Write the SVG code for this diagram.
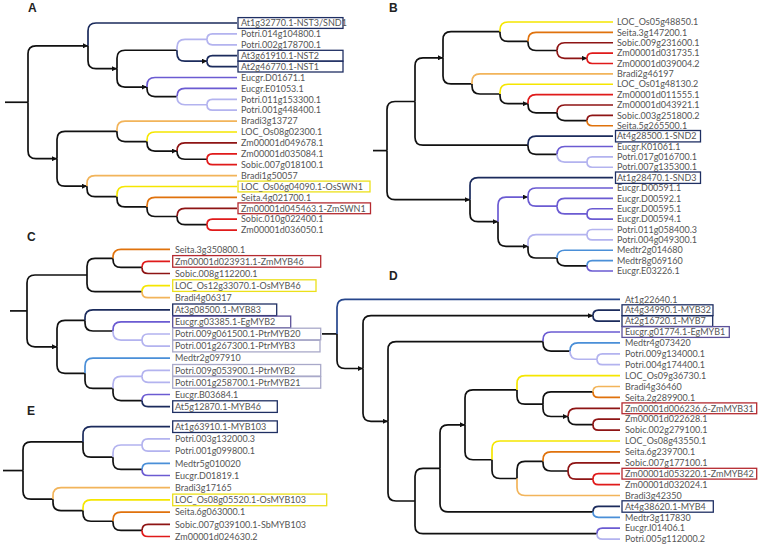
<svg xmlns="http://www.w3.org/2000/svg" width="764" height="550" viewBox="0 0 764 550">
<style>
.t{font-family:Lato,"Open Sans","Liberation Sans",sans-serif;font-size:9px;fill:#555}
.h{font-family:"Liberation Sans",Arial,sans-serif;font-size:12px;font-weight:bold;fill:#222}
path{fill:none;stroke-width:1.7}
.mk{fill:#111;stroke:none}
.k{stroke:#111}.nv{stroke:#1b2b5c}.nv2{stroke:#26468c}.lv{stroke:#b3b3ef}.pu{stroke:#6b5bd2}.bl{stroke:#4a8fd8}
.lo{stroke:#f2b45a}.ye{stroke:#f5e600}.or{stroke:#e0720c}.dr{stroke:#8e1414}.rd{stroke:#e01a1a}
.m{marker-end:url(#ar)}
rect{fill:none;stroke-width:1.3}
.bnv{stroke:#1f2f63}.bye{stroke:#ece01a}.brd{stroke:#b52a30}.blv{stroke:#a9a9c9}.bpu{stroke:#5c5199}
</style>
<defs>
<marker id="ar" viewBox="0 0 6 6" refX="6" refY="3" markerWidth="5" markerHeight="5" markerUnits="userSpaceOnUse" orient="auto"><path class="mk" d="M0,0L6,3L0,6z"/></marker>
</defs>
<rect x="0" y="0" width="764" height="550" fill="#fff" stroke="none"/>
<text class="h" x="28" y="12">A</text>
<text class="h" x="389" y="12">B</text>
<text class="h" x="27" y="241">C</text>
<text class="h" x="389" y="280">D</text>
<text class="h" x="27" y="415">E</text>
<g id="connectors">
<g id="treeA">
<path class="k" d="M5 102.25 H28"/>
<path class="k m" d="M28 102.25 V53.8 Q28 45.8 36 45.8 H88"/>
<path class="k m" d="M28 102.25 V150.7 Q28 158.7 36 158.7 H57"/>
<path class="nv" d="M88 45.8 V31 Q88 23 96 23 H237"/>
<path class="k m" d="M88 45.8 V60.65 Q88 68.65 96 68.65 H117"/>
<path class="k" d="M117 68.65 V58.25 Q117 50.25 125 50.25 H177"/>
<path class="k m" d="M117 68.65 V79.05 Q117 87.05 125 87.05 H147"/>
<path class="lv" d="M177 50.25 V47.35 Q177 39.35 185 39.35 H207"/>
<path class="nv m" d="M177 50.25 V53.15 Q177 61.15 185 61.15 H207"/>
<path class="lv" d="M207 39.35 Q207 33.9 212.45 33.9 H237"/>
<path class="lv" d="M207 39.35 Q207 44.8 212.45 44.8 H237"/>
<path class="nv" d="M207 61.15 Q207 55.7 212.45 55.7 H237"/>
<path class="nv" d="M207 61.15 Q207 66.6 212.45 66.6 H237"/>
<path class="pu" d="M147 87.05 V85.5 Q147 77.5 155 77.5 H237"/>
<path class="k" d="M147 87.05 V88.6 Q147 96.6 155 96.6 H177"/>
<path class="pu" d="M177 96.6 V96.4 Q177 88.4 185 88.4 H237"/>
<path class="lv" d="M177 96.6 V96.75 Q177 104.75 185 104.75 H207"/>
<path class="lv" d="M207 104.75 Q207 99.3 212.45 99.3 H237"/>
<path class="lv" d="M207 104.75 Q207 110.2 212.45 110.2 H237"/>
<path class="k" d="M57 158.7 V139.3 Q57 131.3 65 131.3 H117"/>
<path class="k m" d="M57 158.7 V178.15 Q57 186.15 65 186.15 H87"/>
<path class="lo" d="M117 131.3 V129.1 Q117 121.1 125 121.1 H237"/>
<path class="k" d="M117 131.3 V133.55 Q117 141.55 125 141.55 H147"/>
<path class="ye" d="M147 141.55 V140 Q147 132 155 132 H237"/>
<path class="k m" d="M147 141.55 V143.1 Q147 151.1 155 151.1 H177"/>
<path class="dr" d="M177 151.1 V150.9 Q177 142.9 185 142.9 H237"/>
<path class="k" d="M177 151.1 V151.25 Q177 159.25 185 159.25 H207"/>
<path class="rd" d="M207 159.25 Q207 153.8 212.45 153.8 H237"/>
<path class="rd" d="M207 159.25 Q207 164.7 212.45 164.7 H237"/>
<path class="lo" d="M87 186.15 V183.6 Q87 175.6 95 175.6 H237"/>
<path class="k" d="M87 186.15 V188.7 Q87 196.7 95 196.7 H117"/>
<path class="ye" d="M117 196.7 V194.5 Q117 186.5 125 186.5 H237"/>
<path class="k" d="M117 196.7 V198.95 Q117 206.95 125 206.95 H147"/>
<path class="or" d="M147 206.95 V205.4 Q147 197.4 155 197.4 H237"/>
<path class="k" d="M147 206.95 V208.5 Q147 216.5 155 216.5 H177"/>
<path class="dr" d="M177 216.5 V216.3 Q177 208.3 185 208.3 H237"/>
<path class="k" d="M177 216.5 V216.65 Q177 224.65 185 224.65 H207"/>
<path class="rd" d="M207 224.65 Q207 219.2 212.45 219.2 H237"/>
<path class="rd" d="M207 224.65 Q207 230.1 212.45 230.1 H237"/>
</g>
<g id="treeB">
<path class="k" d="M373 150.6 H387"/>
<path class="k" d="M387 150.6 V109.5 Q387 101.5 395 101.5 H415"/>
<path class="k m" d="M387 150.6 V191.65 Q387 199.65 395 199.65 H470"/>
<path class="k m" d="M415 101.5 V65.8 Q415 57.8 423 57.8 H443"/>
<path class="k" d="M415 101.5 V137.2 Q415 145.2 423 145.2 H528"/>
<path class="k" d="M443 57.8 V39.7 Q443 31.7 451 31.7 H500"/>
<path class="k" d="M443 57.8 V75.95 Q443 83.95 451 83.95 H472"/>
<path class="ye" d="M500 31.7 V30 Q500 22 508 22 H613"/>
<path class="k" d="M500 31.7 V33.45 Q500 41.45 508 41.45 H528"/>
<path class="or" d="M528 41.45 V40.4 Q528 32.4 536 32.4 H613"/>
<path class="k" d="M528 41.45 V42.5 Q528 50.5 536 50.5 H557"/>
<path class="dr" d="M557 50.5 Q557 42.75 564.75 42.75 H613"/>
<path class="dr m" d="M557 50.5 Q557 58.3 564.8 58.3 H587"/>
<path class="rd" d="M587 58.3 Q587 53.1 592.2 53.1 H613"/>
<path class="rd" d="M587 58.3 Q587 63.5 592.2 63.5 H613"/>
<path class="lo" d="M472 83.95 V81.9 Q472 73.9 480 73.9 H613"/>
<path class="k" d="M472 83.95 V86 Q472 94 480 94 H500"/>
<path class="ye" d="M500 94 V92.25 Q500 84.25 508 84.25 H613"/>
<path class="k m" d="M500 94 V95.7 Q500 103.7 508 103.7 H528"/>
<path class="rd" d="M528 103.7 V102.6 Q528 94.6 536 94.6 H613"/>
<path class="k" d="M528 103.7 V104.8 Q528 112.8 536 112.8 H557"/>
<path class="dr" d="M557 112.8 Q557 105 564.8 105 H613"/>
<path class="k" d="M557 112.8 Q557 120.6 564.8 120.6 H587"/>
<path class="dr" d="M587 120.6 Q587 115.4 592.2 115.4 H613"/>
<path class="or" d="M587 120.6 Q587 125.75 592.15 125.75 H613"/>
<path class="nv" d="M528 145.2 V144.1 Q528 136.1 536 136.1 H613"/>
<path class="k" d="M528 145.2 V146.3 Q528 154.3 536 154.3 H557"/>
<path class="pu" d="M557 154.3 Q557 146.5 564.8 146.5 H613"/>
<path class="lv" d="M557 154.3 Q557 162.1 564.8 162.1 H587"/>
<path class="lv" d="M587 162.1 Q587 156.9 592.2 156.9 H613"/>
<path class="lv" d="M587 162.1 Q587 167.25 592.15 167.25 H613"/>
<path class="nv" d="M470 199.65 V185.6 Q470 177.6 478 177.6 H613"/>
<path class="k m" d="M470 199.65 V213.7 Q470 221.7 478 221.7 H498"/>
<path class="pu m" d="M498 221.7 V205.1 Q498 197.1 506 197.1 H528"/>
<path class="k m" d="M498 221.7 V238.35 Q498 246.35 506 246.35 H528"/>
<path class="pu" d="M528 197.1 V196 Q528 188 536 188 H613"/>
<path class="pu" d="M528 197.1 V198.15 Q528 206.15 536 206.15 H557"/>
<path class="pu" d="M557 206.15 Q557 198.4 564.75 198.4 H613"/>
<path class="pu" d="M557 206.15 Q557 213.9 564.75 213.9 H587"/>
<path class="pu" d="M587 213.9 Q587 208.75 592.15 208.75 H613"/>
<path class="pu" d="M587 213.9 Q587 219.1 592.2 219.1 H613"/>
<path class="lv" d="M528 246.35 V242.7 Q528 234.7 536 234.7 H587"/>
<path class="k" d="M528 246.35 V250 Q528 258 536 258 H557"/>
<path class="lv" d="M587 234.7 Q587 229.5 592.2 229.5 H613"/>
<path class="lv" d="M587 234.7 Q587 239.9 592.2 239.9 H613"/>
<path class="bl" d="M557 258 Q557 250.25 564.75 250.25 H613"/>
<path class="k" d="M557 258 Q557 265.8 564.8 265.8 H587"/>
<path class="bl" d="M587 265.8 Q587 260.6 592.2 260.6 H613"/>
<path class="pu" d="M587 265.8 Q587 271 592.2 271 H613"/>
</g>
<g id="treeC">
<path class="k" d="M10 310.9 H27"/>
<path class="k" d="M27 310.9 V283 Q27 275 35 275 H87"/>
<path class="k m" d="M27 310.9 V338.85 Q27 346.85 35 346.85 H57"/>
<path class="k" d="M87 275 V266.4 Q87 258.4 95 258.4 H113"/>
<path class="k" d="M87 275 V283.65 Q87 291.65 95 291.65 H142"/>
<path class="or" d="M113 258.4 V257.3 Q113 249.3 121 249.3 H170"/>
<path class="k" d="M113 258.4 V259.45 Q113 267.45 121 267.45 H142"/>
<path class="rd" d="M142 267.45 Q142 261.4 148.05 261.4 H170"/>
<path class="dr" d="M142 267.45 Q142 273.5 148.05 273.5 H170"/>
<path class="ye" d="M142 291.65 Q142 285.6 148.05 285.6 H170"/>
<path class="lo" d="M142 291.65 Q142 297.7 148.05 297.7 H170"/>
<path class="k" d="M57 346.85 V328.4 Q57 320.4 65 320.4 H85"/>
<path class="k" d="M57 346.85 V365.3 Q57 373.3 65 373.3 H85"/>
<path class="nv" d="M85 320.4 V317.8 Q85 309.8 93 309.8 H170"/>
<path class="k" d="M85 320.4 V323 Q85 331 93 331 H113"/>
<path class="pu" d="M113 331 V329.9 Q113 321.9 121 321.9 H170"/>
<path class="lv" d="M113 331 V332.05 Q113 340.05 121 340.05 H142"/>
<path class="lv" d="M142 340.05 Q142 334 148.05 334 H170"/>
<path class="lv" d="M142 340.05 Q142 346.1 148.05 346.1 H170"/>
<path class="bl" d="M85 373.3 V366.2 Q85 358.2 93 358.2 H170"/>
<path class="k" d="M85 373.3 V380.45 Q85 388.45 93 388.45 H113"/>
<path class="lv" d="M113 388.45 V384.35 Q113 376.35 121 376.35 H142"/>
<path class="k" d="M113 388.45 V392.55 Q113 400.55 121 400.55 H142"/>
<path class="lv" d="M142 376.35 Q142 370.3 148.05 370.3 H170"/>
<path class="lv" d="M142 376.35 Q142 382.4 148.05 382.4 H170"/>
<path class="pu" d="M142 400.55 Q142 394.5 148.05 394.5 H170"/>
<path class="nv" d="M142 400.55 Q142 406.6 148.05 406.6 H170"/>
</g>
<g id="treeD">
<path class="k" d="M322 333.9 H337"/>
<path class="nv2" d="M337 333.9 V307.3 Q337 299.3 345 299.3 H620"/>
<path class="k m" d="M337 333.9 V360.5 Q337 368.5 345 368.5 H363"/>
<path class="k m" d="M363 368.5 V323.65 Q363 315.65 371 315.65 H593"/>
<path class="k m" d="M363 368.5 V413.3 Q363 421.3 371 421.3 H388"/>
<path class="nv" d="M593 315.65 Q593 310.2 598.45 310.2 H620"/>
<path class="nv" d="M593 315.65 Q593 321.1 598.45 321.1 H620"/>
<path class="k" d="M388 421.3 V349.55 Q388 341.55 396 341.55 H543"/>
<path class="k" d="M388 421.3 V493 Q388 501 396 501 H415"/>
<path class="pu" d="M543 341.55 V340 Q543 332 551 332 H620"/>
<path class="k" d="M543 341.55 V343.1 Q543 351.1 551 351.1 H570"/>
<path class="bl" d="M570 351.1 V350.9 Q570 342.9 578 342.9 H620"/>
<path class="lv" d="M570 351.1 V351.25 Q570 359.25 578 359.25 H597"/>
<path class="lv" d="M597 359.25 Q597 353.8 602.45 353.8 H620"/>
<path class="lv" d="M597 359.25 Q597 364.7 602.45 364.7 H620"/>
<path class="k" d="M415 501 V476.3 Q415 468.3 423 468.3 H440"/>
<path class="k" d="M415 501 V525.65 Q415 533.65 423 533.65 H597"/>
<path class="pu" d="M597 533.65 Q597 528.2 602.45 528.2 H620"/>
<path class="lv" d="M597 533.65 Q597 539.1 602.45 539.1 H620"/>
<path class="k m" d="M440 468.3 V432.8 Q440 424.8 448 424.8 H465"/>
<path class="k" d="M440 468.3 V503.85 Q440 511.85 448 511.85 H593"/>
<path class="nv" d="M593 511.85 Q593 506.4 598.45 506.4 H620"/>
<path class="bl" d="M593 511.85 Q593 517.3 598.45 517.3 H620"/>
<path class="k" d="M465 424.8 V397.9 Q465 389.9 473 389.9 H517"/>
<path class="k" d="M465 424.8 V451.75 Q465 459.75 473 459.75 H492"/>
<path class="ye" d="M517 389.9 V383.6 Q517 375.6 525 375.6 H620"/>
<path class="k" d="M517 389.9 V396.2 Q517 404.2 525 404.2 H543"/>
<path class="k" d="M543 404.2 V399.95 Q543 391.95 551 391.95 H593"/>
<path class="k m" d="M543 404.2 V408.5 Q543 416.5 551 416.5 H568"/>
<path class="lo" d="M593 391.95 Q593 386.5 598.45 386.5 H620"/>
<path class="or" d="M593 391.95 Q593 397.4 598.45 397.4 H620"/>
<path class="dr" d="M568 416.5 V416.3 Q568 408.3 576 408.3 H620"/>
<path class="k" d="M568 416.5 V416.65 Q568 424.65 576 424.65 H593"/>
<path class="dr" d="M593 424.65 Q593 419.2 598.45 419.2 H620"/>
<path class="dr" d="M593 424.65 Q593 430.1 598.45 430.1 H620"/>
<path class="ye" d="M492 459.75 V449 Q492 441 500 441 H620"/>
<path class="k" d="M492 459.75 V470.5 Q492 478.5 500 478.5 H517"/>
<path class="k" d="M517 478.5 V469.45 Q517 461.45 525 461.45 H543"/>
<path class="lo" d="M517 478.5 V487.5 Q517 495.5 525 495.5 H620"/>
<path class="or" d="M543 461.45 V459.9 Q543 451.9 551 451.9 H620"/>
<path class="k" d="M543 461.45 V463 Q543 471 551 471 H568"/>
<path class="dr" d="M568 471 V470.8 Q568 462.8 576 462.8 H620"/>
<path class="dr" d="M568 471 V471.15 Q568 479.15 576 479.15 H593"/>
<path class="rd" d="M593 479.15 Q593 473.7 598.45 473.7 H620"/>
<path class="rd" d="M593 479.15 Q593 484.6 598.45 484.6 H620"/>
</g>
<g id="treeE">
<path class="k" d="M3 470.55 H23"/>
<path class="k" d="M23 470.55 V449.95 Q23 441.95 31 441.95 H83"/>
<path class="k" d="M23 470.55 V491.15 Q23 499.15 31 499.15 H53"/>
<path class="nv" d="M83 441.95 V434.7 Q83 426.7 91 426.7 H170"/>
<path class="k" d="M83 441.95 V449.2 Q83 457.2 91 457.2 H113"/>
<path class="lv" d="M113 457.2 V453 Q113 445 121 445 H142"/>
<path class="k" d="M113 457.2 V461.4 Q113 469.4 121 469.4 H142"/>
<path class="lv" d="M142 445 Q142 438.9 148.1 438.9 H170"/>
<path class="lv" d="M142 445 Q142 451.1 148.1 451.1 H170"/>
<path class="bl" d="M142 469.4 Q142 463.3 148.1 463.3 H170"/>
<path class="pu" d="M142 469.4 Q142 475.5 148.1 475.5 H170"/>
<path class="lo" d="M53 499.15 V495.7 Q53 487.7 61 487.7 H170"/>
<path class="k" d="M53 499.15 V502.6 Q53 510.6 61 510.6 H83"/>
<path class="ye" d="M83 510.6 V507.9 Q83 499.9 91 499.9 H170"/>
<path class="k" d="M83 510.6 V513.25 Q83 521.25 91 521.25 H113"/>
<path class="or" d="M113 521.25 V520.1 Q113 512.1 121 512.1 H170"/>
<path class="k" d="M113 521.25 V522.4 Q113 530.4 121 530.4 H142"/>
<path class="dr" d="M142 530.4 Q142 524.3 148.1 524.3 H170"/>
<path class="rd" d="M142 530.4 Q142 536.5 148.1 536.5 H170"/>
</g>
</g>
<g id="leavesA">
<g id="A0"><rect class="bnv" x="238" y="17.6" width="105" height="10.8"/><text class="t" x="241" y="26.2">At1g32770.1-NST3/SND1</text></g>
<g id="A1"><text class="t" x="241" y="37.1">Potri.014g104800.1</text></g>
<g id="A2"><text class="t" x="241" y="48">Potri.002g178700.1</text></g>
<g id="A3"><rect class="bnv" x="238" y="50.3" width="105" height="10.8"/><text class="t" x="241" y="58.9">At3g61910.1-NST2</text></g>
<g id="A4"><rect class="bnv" x="238" y="61.2" width="105" height="10.8"/><text class="t" x="241" y="69.8">At2g46770.1-NST1</text></g>
<g id="A5"><text class="t" x="241" y="80.7">Eucgr.D01671.1</text></g>
<g id="A6"><text class="t" x="241" y="91.6">Eucgr.E01053.1</text></g>
<g id="A7"><text class="t" x="241" y="102.5">Potri.011g153300.1</text></g>
<g id="A8"><text class="t" x="241" y="113.4">Potri.001g448400.1</text></g>
<g id="A9"><text class="t" x="241" y="124.3">Bradi3g13727</text></g>
<g id="A10"><text class="t" x="241" y="135.2">LOC_Os08g02300.1</text></g>
<g id="A11"><text class="t" x="241" y="146.1">Zm00001d049678.1</text></g>
<g id="A12"><text class="t" x="241" y="157">Zm00001d035084.1</text></g>
<g id="A13"><text class="t" x="241" y="167.9">Sobic.007g018100.1</text></g>
<g id="A14"><text class="t" x="241" y="178.8">Bradi1g50057</text></g>
<g id="A15"><rect class="bye" x="238" y="181.1" width="132" height="10.8"/><text class="t" x="241" y="189.7">LOC_Os06g04090.1-OsSWN1</text></g>
<g id="A16"><text class="t" x="241" y="200.6">Seita.4g021700.1</text></g>
<g id="A17"><rect class="brd" x="238" y="202.9" width="132.5" height="10.8"/><text class="t" x="241" y="211.5">Zm00001d045463.1-ZmSWN1</text></g>
<g id="A18"><text class="t" x="241" y="222.4">Sobic.010g022400.1</text></g>
<g id="A19"><text class="t" x="241" y="233.3">Zm00001d036050.1</text></g>
</g>
<g id="leavesB">
<g id="B0"><text class="t" x="617" y="25.2">LOC_Os05g48850.1</text></g>
<g id="B1"><text class="t" x="617" y="35.6">Seita.3g147200.1</text></g>
<g id="B2"><text class="t" x="617" y="45.95">Sobic.009g231600.1</text></g>
<g id="B3"><text class="t" x="617" y="56.3">Zm00001d031735.1</text></g>
<g id="B4"><text class="t" x="617" y="66.7">Zm00001d039004.2</text></g>
<g id="B5"><text class="t" x="617" y="77.1">Bradi2g46197</text></g>
<g id="B6"><text class="t" x="617" y="87.45">LOC_Os01g48130.2</text></g>
<g id="B7"><text class="t" x="617" y="97.8">Zm00001d011555.1</text></g>
<g id="B8"><text class="t" x="617" y="108.2">Zm00001d043921.1</text></g>
<g id="B9"><text class="t" x="617" y="118.6">Sobic.003g251800.2</text></g>
<g id="B10"><text class="t" x="617" y="128.95">Seita.5g265500.1</text></g>
<g id="B11"><rect class="bnv" x="615.5" y="130.5" width="85" height="11.4"/><text class="t" x="617" y="139.3">At4g28500.1-SND2</text></g>
<g id="B12"><text class="t" x="617" y="149.7">Eucgr.K01061.1</text></g>
<g id="B13"><text class="t" x="617" y="160.1">Potri.017g016700.1</text></g>
<g id="B14"><text class="t" x="617" y="170.45">Potri.007g135300.1</text></g>
<g id="B15"><rect class="bnv" x="615.5" y="172" width="85" height="11.4"/><text class="t" x="617" y="180.8">At1g28470.1-SND3</text></g>
<g id="B16"><text class="t" x="617" y="191.2">Eucgr.D00591.1</text></g>
<g id="B17"><text class="t" x="617" y="201.6">Eucgr.D00592.1</text></g>
<g id="B18"><text class="t" x="617" y="211.95">Eucgr.D00595.1</text></g>
<g id="B19"><text class="t" x="617" y="222.3">Eucgr.D00594.1</text></g>
<g id="B20"><text class="t" x="617" y="232.7">Potri.011g058400.3</text></g>
<g id="B21"><text class="t" x="617" y="243.1">Potri.004g049300.1</text></g>
<g id="B22"><text class="t" x="617" y="253.45">Medtr2g014680</text></g>
<g id="B23"><text class="t" x="617" y="263.8">Medtr8g069160</text></g>
<g id="B24"><text class="t" x="617" y="274.2">Eucgr.E03226.1</text></g>
</g>
<g id="leavesC">
<g id="C0"><text class="t" x="175" y="252.5">Seita.3g350800.1</text></g>
<g id="C1"><rect class="brd" x="172.7" y="255.6" width="148" height="11.6"/><text class="t" x="175" y="264.6">Zm00001d023931.1-ZmMYB46</text></g>
<g id="C2"><text class="t" x="175" y="276.7">Sobic.008g112200.1</text></g>
<g id="C3"><rect class="bye" x="172.7" y="279.8" width="143.3" height="11.6"/><text class="t" x="175" y="288.8">LOC_Os12g33070.1-OsMYB46</text></g>
<g id="C4"><text class="t" x="175" y="300.9">Bradi4g06317</text></g>
<g id="C5"><rect class="bnv" x="172.7" y="304" width="104" height="11.6"/><text class="t" x="175" y="313">At3g08500.1-MYB83</text></g>
<g id="C6"><rect class="bpu" x="172.7" y="316.1" width="118" height="11.6"/><text class="t" x="175" y="325.1">Eucgr.g03385.1-EgMYB2</text></g>
<g id="C7"><rect class="blv" x="172.7" y="328.2" width="148" height="11.6"/><text class="t" x="175" y="337.2">Potri.009g061500.1-PtrMYB20</text></g>
<g id="C8"><rect class="blv" x="172.7" y="340.3" width="147.3" height="11.6"/><text class="t" x="175" y="349.3">Potri.001g267300.1-PtrMYB3</text></g>
<g id="C9"><text class="t" x="175" y="361.4">Medtr2g097910</text></g>
<g id="C10"><rect class="blv" x="172.7" y="364.5" width="148" height="11.6"/><text class="t" x="175" y="373.5">Potri.009g053900.1-PtrMYB2</text></g>
<g id="C11"><rect class="blv" x="172.7" y="376.6" width="148" height="11.6"/><text class="t" x="175" y="385.6">Potri.001g258700.1-PtrMYB21</text></g>
<g id="C12"><text class="t" x="175" y="397.7">Eucgr.B03684.1</text></g>
<g id="C13"><rect class="bnv" x="172.7" y="400.8" width="104.6" height="11.6"/><text class="t" x="175" y="409.8">At5g12870.1-MYB46</text></g>
</g>
<g id="leavesD">
<g id="D0"><text class="t" x="625" y="302.5">At1g22640.1</text></g>
<g id="D1"><rect class="bnv" x="622" y="304.8" width="91" height="10.8"/><text class="t" x="625" y="313.4">At4g34990.1-MYB32</text></g>
<g id="D2"><rect class="bnv" x="622" y="315.7" width="90.7" height="10.8"/><text class="t" x="625" y="324.3">At2g16720.1-MYB7</text></g>
<g id="D3"><rect class="bpu" x="622" y="326.6" width="107.3" height="10.8"/><text class="t" x="625" y="335.2">Eucgr.g01774.1-EgMYB1</text></g>
<g id="D4"><text class="t" x="625" y="346.1">Medtr4g073420</text></g>
<g id="D5"><text class="t" x="625" y="357">Potri.009g134000.1</text></g>
<g id="D6"><text class="t" x="625" y="367.9">Potri.004g174400.1</text></g>
<g id="D7"><text class="t" x="625" y="378.8">LOC_Os09g36730.1</text></g>
<g id="D8"><text class="t" x="625" y="389.7">Bradi4g36460</text></g>
<g id="D9"><text class="t" x="625" y="400.6">Seita.2g289900.1</text></g>
<g id="D10"><rect class="brd" x="622" y="402.9" width="134.7" height="10.8"/><text class="t" x="625" y="411.5">Zm00001d006236.6-ZmMYB31</text></g>
<g id="D11"><text class="t" x="625" y="422.4">Zm00001d022628.1</text></g>
<g id="D12"><text class="t" x="625" y="433.3">Sobic.002g279100.1</text></g>
<g id="D13"><text class="t" x="625" y="444.2">LOC_Os08g43550.1</text></g>
<g id="D14"><text class="t" x="625" y="455.1">Seita.6g239700.1</text></g>
<g id="D15"><text class="t" x="625" y="466">Sobic.007g177100.1</text></g>
<g id="D16"><rect class="brd" x="622" y="468.3" width="134.7" height="10.8"/><text class="t" x="625" y="476.9">Zm00001d053220.1-ZmMYB42</text></g>
<g id="D17"><text class="t" x="625" y="487.8">Zm00001d032024.1</text></g>
<g id="D18"><text class="t" x="625" y="498.7">Bradi3g42350</text></g>
<g id="D19"><rect class="bnv" x="622" y="500.8" width="91.3" height="11.4"/><text class="t" x="625" y="509.6">At4g38620.1-MYB4</text></g>
<g id="D20"><text class="t" x="625" y="520.5">Medtr3g117830</text></g>
<g id="D21"><text class="t" x="625" y="531.4">Eucgr.I01406.1</text></g>
<g id="D22"><text class="t" x="625" y="542.3">Potri.005g112000.2</text></g>
</g>
<g id="leavesE">
<g id="E0"><rect class="bnv" x="172.7" y="420.9" width="104.6" height="11.6"/><text class="t" x="175" y="429.9">At1g63910.1-MYB103</text></g>
<g id="E1"><text class="t" x="175" y="442.1">Potri.003g132000.3</text></g>
<g id="E2"><text class="t" x="175" y="454.3">Potri.001g099800.1</text></g>
<g id="E3"><text class="t" x="175" y="466.5">Medtr5g010020</text></g>
<g id="E4"><text class="t" x="175" y="478.7">Eucgr.D01819.1</text></g>
<g id="E5"><text class="t" x="175" y="490.9">Bradi3g17165</text></g>
<g id="E6"><rect class="bye" x="172.7" y="494.1" width="154" height="11.6"/><text class="t" x="175" y="503.1">LOC_Os08g05520.1-OsMYB103</text></g>
<g id="E7"><text class="t" x="175" y="515.3">Seita.6g063000.1</text></g>
<g id="E8"><text class="t" x="175" y="527.5">Sobic.007g039100.1-SbMYB103</text></g>
<g id="E9"><text class="t" x="175" y="539.7">Zm00001d024630.2</text></g>
</g>
</svg>
